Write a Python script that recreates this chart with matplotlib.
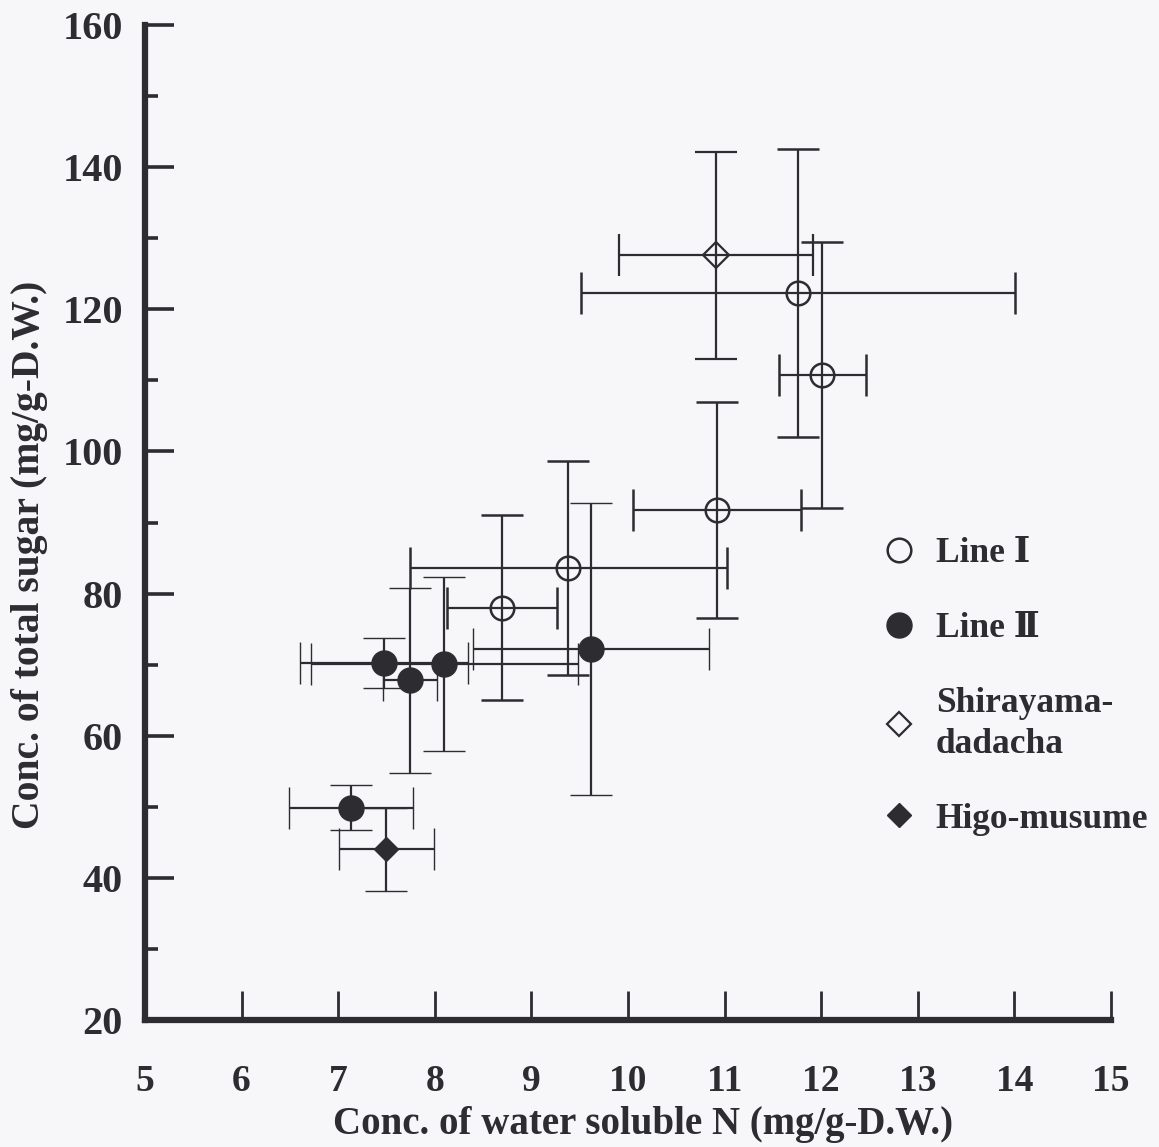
import matplotlib
matplotlib.use("Agg")
import matplotlib.pyplot as plt
from matplotlib.lines import Line2D
from matplotlib.ticker import MultipleLocator

plt.rcParams['font.family'] = ['Liberation Serif', 'DejaVu Serif', 'Noto Sans CJK JP']

# ---- data ----
line1_x = [8.70, 9.38, 10.92, 11.76, 12.01]
line1_y = [78.0, 83.6, 91.8, 122.3, 110.7]
line1_xerr = [0.57, 1.64, 0.87, 2.25, 0.45]
line1_yerr = [13.0, 15.05, 15.2, 20.3, 18.7]

line2_x = [7.13, 7.47, 7.74, 8.10, 9.62]
line2_y = [49.9, 70.2, 67.8, 70.1, 72.2]
line2_xerr = [0.64, 0.87, 0.28, 1.38, 1.22]
line2_yerr = [3.1, 3.5, 13.0, 12.2, 20.6]

shira_x = [10.91]
shira_y = [127.6]
shira_xerr = [1.0]
shira_yerr = [14.6]

higo_x = [7.50]
higo_y = [44.0]
higo_xerr = [0.49]
higo_yerr = [5.9]

labels = ["Line \u2160", "Line \u2161", "Shirayama-\ndadacha", "Higo-musume"]
x_ticks = [5, 6, 7, 8, 9, 10, 11, 12, 13, 14, 15]
y_ticks = [20, 40, 60, 80, 100, 120, 140, 160]

ink = '#2c2c31'
bg = '#f7f7f9'

fig = plt.figure(figsize=(11.59, 11.47), dpi=100, facecolor=bg)
ax = fig.add_axes([0.1251, 0.1107, 0.8335, 0.8675])
ax.set_facecolor(bg)

common = dict(ecolor=ink, elinewidth=1.6, capsize=15, capthick=1.6, linestyle='none')
ax.errorbar(line1_x, line1_y, xerr=line1_xerr, yerr=line1_yerr, marker='o', ms=17,
            mfc='none', mec=ink, mew=1.8, **common)
ax.errorbar(line2_x, line2_y, xerr=line2_xerr, yerr=line2_yerr, marker='o', ms=18,
            mfc=ink, mec=ink, mew=1.0, **common)
ax.errorbar(shira_x, shira_y, xerr=shira_xerr, yerr=shira_yerr, marker='D', ms=13,
            mfc='none', mec=ink, mew=1.6, **common)
ax.errorbar(higo_x, higo_y, xerr=higo_xerr, yerr=higo_yerr, marker='D', ms=12,
            mfc=ink, mec=ink, mew=1.0, **common)

ax.set_xlim(5, 15)
ax.set_ylim(20, 160)
for s in ['top', 'right']:
    ax.spines[s].set_visible(False)
for s in ['left', 'bottom']:
    ax.spines[s].set_linewidth(4.5)
    ax.spines[s].set_color(ink)
    ax.spines[s].set_capstyle('projecting')

ax.set_xticks(x_ticks)
ax.set_yticks(y_ticks)
ax.yaxis.set_minor_locator(MultipleLocator(10))
ax.tick_params(axis='y', which='major', direction='in', length=21, width=2.6,
               color=ink, pad=16, labelsize=29)
ax.tick_params(axis='y', which='minor', direction='in', length=9.5, width=2.6, color=ink)
ax.tick_params(axis='x', which='major', direction='in', length=21, width=2.0,
               color=ink, pad=32, labelsize=27)
for lab in ax.get_yticklabels():
    lab.set_fontweight('bold')
    lab.set_color(ink)
for lab in ax.get_xticklabels():
    lab.set_fontweight('bold')
    lab.set_color(ink)

ax.set_xlabel("Conc. of water soluble N (mg/g-D.W.)", fontsize=28, fontweight='bold',
              color=ink)
ax.set_ylabel("Conc. of total sugar (mg/g-D.W.)", fontsize=28.5, fontweight='bold',
              color=ink)
ax.xaxis.set_label_coords(0.516, -0.086)
ax.yaxis.set_label_coords(-0.1005, 0.467)

handles = [
    Line2D([], [], ls='none', marker='o', ms=17, mfc='none', mec=ink, mew=1.8),
    Line2D([], [], ls='none', marker='o', ms=18, mfc=ink, mec=ink),
    Line2D([], [], ls='none', marker='D', ms=12, mfc='none', mec=ink, mew=1.6),
    Line2D([], [], ls='none', marker='D', ms=12, mfc=ink, mec=ink),
]
leg = ax.legend(handles, labels, loc='upper left', bbox_to_anchor=(0.734, 0.5597),
                bbox_transform=fig.transFigure, frameon=False, handlelength=0.95,
                handletextpad=0.55, labelspacing=1.19, prop={'size': 25.5, 'weight': 'bold'})
for t in leg.get_texts():
    t.set_color(ink)
    t.set_linespacing(1.3)

fig.savefig("out.png", dpi=100, facecolor=bg)
